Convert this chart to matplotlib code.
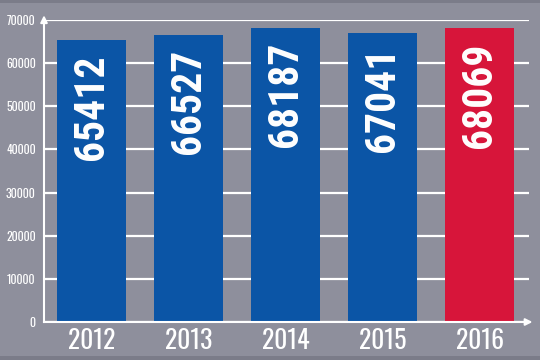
# Bar chart of yearly totals, last year highlighted in red.
import matplotlib
matplotlib.use("Agg")
import matplotlib.pyplot as plt
from matplotlib.font_manager import FontProperties
from matplotlib.patches import Rectangle

# Data
years = ["2012", "2013", "2014", "2015", "2016"]
values = [65412, 66527, 68187, 67041, 68069]
y_ticks = [0, 10000, 20000, 30000, 40000, 50000, 60000, 70000]

# Colours
bg = "#8e8f9c"
blue = "#0b55a6"
red = "#d7153a"
bar_colors = [blue, blue, blue, blue, red]

# Fonts
value_font = FontProperties(family=["Roboto Condensed", "DejaVu Sans"], weight="bold", size=30)
year_font = FontProperties(family=["Oswald", "DejaVu Sans"], weight=200, size=18.5)
tick_font = FontProperties(family=["Oswald", "DejaVu Sans"], weight=200, size=8.5)

fig = plt.figure(figsize=(5.4, 3.6), dpi=100, facecolor=bg)

# Darker strips at the very top and bottom of the picture
fig.patches.append(Rectangle((0, 357/360), 1, 3/360, transform=fig.transFigure,
	facecolor="#7b7c89", edgecolor="none", zorder=0))
fig.patches.append(Rectangle((0, 0), 1, 4/360, transform=fig.transFigure,
	facecolor="#7b7c89", edgecolor="none", zorder=0))

ax = fig.add_axes([44/540, 38/360, 485/540, 302/360])
ax.set_facecolor(bg)

x = list(range(len(years)))
ax.bar(x, values, width=0.72, color=bar_colors, zorder=3)

# Value labels written up the bars
for xi, v in zip(x, values):
	ax.text(xi, v - 3300, str(v), rotation=90, ha="center", va="top",
		color="white", fontproperties=value_font, zorder=4)

ax.set_xlim(-0.49, 4.51)
ax.set_ylim(0, 70000)

# Axes: white spines with arrow heads, white horizontal grid
for side in ["top", "right"]:
	ax.spines[side].set_visible(False)
for side in ["left", "bottom"]:
	ax.spines[side].set_color("white")
	ax.spines[side].set_linewidth(1.5)
	ax.spines[side].set_zorder(5)
ax.annotate("", xy=(1.013, 0), xytext=(0.99, 0), xycoords="axes fraction",
	arrowprops=dict(arrowstyle="-|>", color="white", lw=1.5,
	mutation_scale=10), annotation_clip=False)
ax.annotate("", xy=(0, 1.025), xytext=(0, 0.99), xycoords="axes fraction",
	arrowprops=dict(arrowstyle="-|>", color="white", lw=1.5,
	mutation_scale=10), annotation_clip=False)

ax.set_yticks(y_ticks)
ax.set_yticklabels([str(t) for t in y_ticks])
ax.yaxis.grid(True, color="white", linewidth=1.6, zorder=1)
ax.set_axisbelow(True)
ax.tick_params(axis="y", length=0, pad=6, labelcolor="white")
for lbl in ax.get_yticklabels():
	lbl.set_fontproperties(tick_font)

ax.set_xticks(x)
ax.set_xticklabels(years)
ax.tick_params(axis="x", length=0, pad=4, labelcolor="white")
for lbl in ax.get_xticklabels():
	lbl.set_fontproperties(year_font)

fig.savefig("out.png", dpi=100, facecolor=bg)
